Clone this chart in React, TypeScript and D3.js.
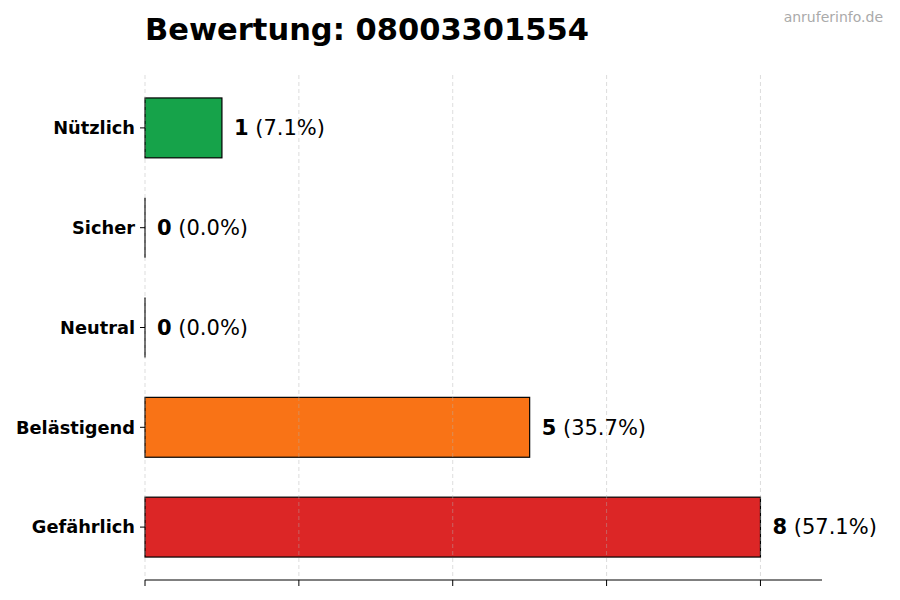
import * as d3 from 'd3';

const CATEGORIES = ['Gefährlich', 'Belästigend', 'Neutral', 'Sicher', 'Nützlich'];
const COUNTS = [8, 5, 0, 0, 1];
const COLORS = ['#dc2626', '#f97316', '#9ca3af', '#3b82f6', '#16a34a'];
const X_TICKS = [0, 2, 4, 6, 8];
const TITLE = 'Bewertung: 08003301554';
const WATERMARK = 'anruferinfo.de';

const W = 900;
const H = 600;
const PLOT = { left: 145, right: 822, top: 75, bottom: 580 };
const FONT = '"DejaVu Sans", sans-serif';

export default function App() {
  const total = d3.sum(COUNTS);
  const x = d3.scaleLinear().domain([0, 8.8]).range([PLOT.left, PLOT.right]);
  const y = d3.scaleLinear().domain([-0.53, 4.53]).range([PLOT.bottom, PLOT.top]);
  const barH = Math.abs(y(0.6) - y(0));

  return (
    <svg
      width={W}
      height={H}
      style={{ position: 'fixed', left: 0, top: 0, background: '#fff', fontFamily: FONT }}
    >
      <text x={PLOT.left} y={40} fontSize={30.5} fontWeight="bold" fill="#000">
        {TITLE}
      </text>
      <text x={883} y={22} fontSize={14} fill="#aaaaaa" textAnchor="end">
        {WATERMARK}
      </text>

      {/* bars; a zero-width bar still shows its edge */}
      {COUNTS.map((v, i) =>
        v > 0 ? (
          <rect
            key={CATEGORIES[i]}
            x={x(0)}
            y={y(i) - barH / 2}
            width={x(v) - x(0)}
            height={barH}
            fill={COLORS[i]}
            stroke="#000"
            strokeWidth={1.2}
          />
        ) : (
          <line
            key={CATEGORIES[i]}
            x1={x(0)}
            x2={x(0)}
            y1={y(i) - barH / 2}
            y2={y(i) + barH / 2}
            stroke="#000"
            strokeWidth={1.2}
          />
        )
      )}

      {/* grid, drawn over bars */}
      {X_TICKS.map((t) => (
        <line
          key={'g' + t}
          x1={x(t)}
          x2={x(t)}
          y1={PLOT.top}
          y2={PLOT.bottom}
          stroke="#b0b0b0"
          strokeOpacity={0.55}
          strokeWidth={0.8}
          strokeDasharray="4,3"
        />
      ))}

      {/* bottom axis */}
      <line x1={PLOT.left} x2={PLOT.right} y1={PLOT.bottom} y2={PLOT.bottom} stroke="#000" strokeWidth={1} />
      {X_TICKS.map((t) => (
        <line key={'t' + t} x1={x(t)} x2={x(t)} y1={PLOT.bottom} y2={PLOT.bottom + 6} stroke="#000" strokeWidth={1} />
      ))}

      {/* y axis labels */}
      {CATEGORIES.map((c, i) => (
        <g key={'y' + c}>
          <line x1={PLOT.left - 5} x2={PLOT.left} y1={y(i)} y2={y(i)} stroke="#000" strokeWidth={1} />
          <text
            x={PLOT.left - 10}
            y={y(i)}
            dy="0.35em"
            textAnchor="end"
            fontSize={17.8}
            fontWeight="bold"
            fill="#000"
          >
            {c}
          </text>
        </g>
      ))}

      {/* value labels */}
      {COUNTS.map((v, i) => (
        <text key={'v' + i} x={x(v) + 12} y={y(i)} dy="0.35em" fontSize={21} fill="#000">
          <tspan fontWeight="bold">{v}</tspan>
          <tspan>{` (${((v / total) * 100).toFixed(1)}%)`}</tspan>
        </text>
      ))}
    </svg>
  );
}
